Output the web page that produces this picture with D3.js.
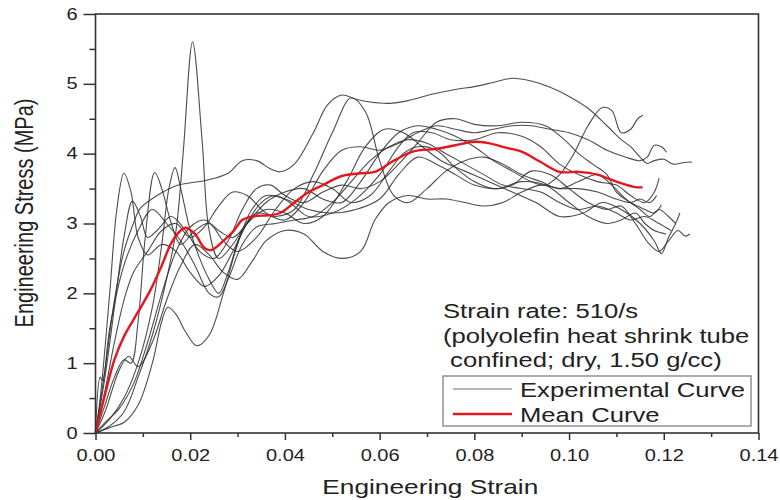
<!DOCTYPE html>
<html>
<head>
<meta charset="utf-8">
<script src="https://cdn.jsdelivr.net/npm/d3@7"></script>
<style>
  body { margin: 0; background: #fff; }
  svg { display: block; font-family: "Liberation Sans", Arial, sans-serif; }
</style>
</head>
<body>
<svg id="chart"></svg>
<script>
// values (strain, stress MPa)
var exp1 = [[0,0],[0.002,0.9],[0.004,1.9],[0.006,2.6],[0.008,3.0],[0.0095,3.22],[0.013,3.4],[0.0175,3.55],[0.0235,3.62],[0.028,3.72],[0.031,3.9],[0.034,3.9],[0.037,3.78],[0.039,3.74],[0.042,3.85],[0.046,4.3],[0.049,4.7],[0.052,4.84],[0.055,4.78],[0.058,4.74],[0.062,4.72],[0.066,4.76],[0.071,4.85],[0.076,4.92],[0.08,4.96],[0.084,5.02],[0.088,5.08],[0.092,5.04],[0.096,4.95],[0.1,4.82],[0.104,4.65],[0.108,4.4],[0.111,4.2],[0.113,4.1],[0.115,3.95],[0.1165,3.86],[0.118,3.9],[0.12,3.92],[0.122,3.85],[0.124,3.87],[0.126,3.88]]
var exp2 = [[0,0],[0.003,0.1],[0.006,0.3],[0.009,0.8],[0.012,1.4],[0.015,2.2],[0.017,2.9],[0.0185,4.0],[0.0205,5.6],[0.0225,4.2],[0.024,2.9],[0.026,2.5],[0.029,2.7],[0.032,3.0],[0.036,3.2],[0.04,3.15],[0.044,3.0],[0.048,3.1],[0.053,3.6],[0.057,4.1],[0.061,4.35],[0.065,4.3],[0.069,4.1],[0.073,3.9],[0.078,3.75],[0.083,3.6],[0.088,3.45],[0.093,3.3],[0.098,3.1],[0.103,3.15],[0.107,3.3],[0.111,3.2],[0.115,3.0],[0.118,2.75],[0.1195,2.57],[0.121,2.8],[0.1225,3.0],[0.1234,3.15]]
var exp3 = [[0,0],[0.001,0.5],[0.003,2.0],[0.0045,3.2],[0.006,3.72],[0.0075,3.45],[0.009,2.8],[0.011,2.55],[0.014,2.7],[0.017,2.6],[0.02,2.3],[0.023,2.1],[0.026,2.25],[0.029,2.6],[0.032,3.0],[0.035,3.3],[0.038,3.4],[0.041,3.3],[0.045,3.1],[0.05,3.15],[0.055,3.35],[0.06,3.7],[0.064,4.1],[0.067,4.3],[0.071,4.3],[0.075,4.2],[0.08,4.2],[0.085,4.3],[0.09,4.25],[0.094,4.1],[0.098,3.85],[0.102,3.7],[0.106,3.6],[0.11,3.55],[0.113,3.4],[0.116,3.3],[0.118,3.45],[0.119,3.65]]
var exp4 = [[0,0],[0.002,0.8],[0.004,1.8],[0.006,2.8],[0.0078,3.32],[0.0095,3.1],[0.011,2.8],[0.013,2.9],[0.016,3.1],[0.019,2.9],[0.022,2.6],[0.025,2.5],[0.028,2.75],[0.031,3.2],[0.034,3.5],[0.037,3.55],[0.04,3.4],[0.044,3.3],[0.048,3.45],[0.052,3.55],[0.056,3.5],[0.06,3.6],[0.064,3.85],[0.068,4.15],[0.072,4.45],[0.076,4.5],[0.08,4.42],[0.085,4.4],[0.09,4.45],[0.095,4.4],[0.099,4.2],[0.102,4.0],[0.105,3.85],[0.108,3.7],[0.11,3.45],[0.113,3.3],[0.116,3.2],[0.118,3.15],[0.1195,3.27]]
var exp5 = [[0,0],[0.002,0.4],[0.004,0.8],[0.006,1.05],[0.0075,1.0],[0.009,1.6],[0.0105,2.8],[0.0125,3.73],[0.014,3.5],[0.016,3.0],[0.018,2.7],[0.021,2.9],[0.024,3.0],[0.027,2.75],[0.03,2.6],[0.034,2.8],[0.038,3.2],[0.042,3.5],[0.046,3.6],[0.05,3.5],[0.054,3.3],[0.058,3.4],[0.062,3.75],[0.065,4.0],[0.068,4.1],[0.072,4.05],[0.076,3.8],[0.08,3.6],[0.084,3.5],[0.088,3.55],[0.092,3.75],[0.096,3.7],[0.1,3.5],[0.104,3.3],[0.108,3.2],[0.111,3.25],[0.114,3.0],[0.117,2.7],[0.119,2.6],[0.121,2.75],[0.123,2.9],[0.1245,2.82],[0.1255,2.85]]
var exp6 = [[0,0],[0.003,0.2],[0.006,0.5],[0.009,1.0],[0.012,1.8],[0.014,2.7],[0.0155,3.5],[0.0168,3.8],[0.018,3.5],[0.02,2.9],[0.022,2.5],[0.024,2.2],[0.026,2.0],[0.028,2.3],[0.031,2.9],[0.034,3.15],[0.038,3.1],[0.042,3.2],[0.046,3.7],[0.05,4.3],[0.054,4.8],[0.057,4.6],[0.06,3.9],[0.063,3.4],[0.066,3.3],[0.07,3.5],[0.074,3.75],[0.078,3.9],[0.082,3.95],[0.086,3.85],[0.09,3.7],[0.094,3.6],[0.098,3.5],[0.102,3.6],[0.106,3.7],[0.109,3.55],[0.112,3.35],[0.115,3.2],[0.117,3.1],[0.119,3.2],[0.121,3.1],[0.1225,3.0]]
var exp7 = [[0,0],[0.002,0.15],[0.005,0.35],[0.008,0.7],[0.011,1.3],[0.014,2.0],[0.017,2.6],[0.02,2.95],[0.023,3.05],[0.026,2.9],[0.029,2.8],[0.032,3.0],[0.036,3.3],[0.04,3.45],[0.044,3.5],[0.048,3.35],[0.052,3.3],[0.056,3.6],[0.06,4.0],[0.064,4.3],[0.068,4.4],[0.072,4.35],[0.076,4.25],[0.08,4.1],[0.084,3.9],[0.088,3.75],[0.092,3.6],[0.095,3.55],[0.098,3.7],[0.101,4.0],[0.104,4.4],[0.107,4.66],[0.109,4.62],[0.111,4.3],[0.113,4.35],[0.1145,4.5],[0.1156,4.55]]
var exp8 = [[0,0],[0.002,0.05],[0.004,0.1],[0.006,0.15],[0.009,0.4],[0.012,1.0],[0.014,1.6],[0.0153,1.8],[0.017,1.7],[0.019,1.45],[0.0214,1.25],[0.024,1.4],[0.027,2.0],[0.03,2.7],[0.033,3.2],[0.036,3.4],[0.04,3.35],[0.045,3.2],[0.05,3.15],[0.055,3.2],[0.06,3.35],[0.064,3.7],[0.068,3.95],[0.072,3.85],[0.076,3.7],[0.08,3.55],[0.085,3.5],[0.09,3.6],[0.095,3.55],[0.1,3.3],[0.104,3.1],[0.108,3.0],[0.111,3.05],[0.114,3.15],[0.116,3.0],[0.118,2.9],[0.1205,2.85]]
var exp9 = [[0,0],[0.002,0.3],[0.005,0.9],[0.007,1.1],[0.009,0.95],[0.012,1.3],[0.015,1.9],[0.018,2.4],[0.021,2.7],[0.024,2.55],[0.027,2.3],[0.03,2.2],[0.033,2.45],[0.036,2.75],[0.04,2.9],[0.044,2.85],[0.048,2.6],[0.052,2.5],[0.056,2.6],[0.059,3.05],[0.062,3.3],[0.066,3.4],[0.07,3.35],[0.074,3.35],[0.078,3.3],[0.082,3.25],[0.086,3.3],[0.09,3.45],[0.094,3.55],[0.098,3.5],[0.102,3.5],[0.106,3.45],[0.11,3.35],[0.113,3.3],[0.115,3.35],[0.117,3.3],[0.1185,3.4]]
var exp10 = [[0,0],[0.002,0.6],[0.004,1.3],[0.006,1.9],[0.008,2.3],[0.011,2.6],[0.014,2.9],[0.017,3.0],[0.02,2.8],[0.023,2.95],[0.026,3.25],[0.029,3.45],[0.032,3.4],[0.036,3.15],[0.04,3.05],[0.044,3.3],[0.048,3.75],[0.052,4.05],[0.056,4.1],[0.06,4.05],[0.064,4.15],[0.068,4.3],[0.072,4.4],[0.076,4.35],[0.08,4.3],[0.084,4.35],[0.088,4.4],[0.092,4.4],[0.096,4.35],[0.1,4.3],[0.104,4.2],[0.108,4.05],[0.112,3.95],[0.115,3.9],[0.1165,3.95],[0.118,4.12],[0.1195,4.1],[0.1206,4.02]]
var exp11 = [[0,0],[0.001,0.8],[0.0015,0.75],[0.003,1.5],[0.006,2.4],[0.009,2.9],[0.012,3.2],[0.015,3.0],[0.018,2.75],[0.021,2.4],[0.024,2.0],[0.026,1.95],[0.028,2.2],[0.031,2.7],[0.034,2.95],[0.038,3.0],[0.042,3.05],[0.046,3.1],[0.05,3.3],[0.054,3.6],[0.058,3.9],[0.062,4.1],[0.066,4.2],[0.07,4.15],[0.074,4.0],[0.078,3.85],[0.082,3.7],[0.086,3.55],[0.09,3.5],[0.094,3.45],[0.098,3.3],[0.102,3.2],[0.106,3.25],[0.11,3.15],[0.113,3.05],[0.116,3.1],[0.119,3.0],[0.1215,2.9]]

var meanCurve = [[0,0],[0.002,0.55],[0.004,1.05],[0.006,1.38],[0.008,1.62],[0.01,1.85],[0.012,2.1],[0.014,2.4],[0.016,2.72],[0.018,2.9],[0.019,2.94],[0.021,2.85],[0.023,2.65],[0.0245,2.62],[0.027,2.75],[0.029,2.88],[0.031,3.05],[0.033,3.1],[0.037,3.12],[0.039,3.15],[0.042,3.3],[0.045,3.45],[0.048,3.55],[0.052,3.68],[0.056,3.72],[0.059,3.74],[0.063,3.9],[0.067,4.03],[0.072,4.07],[0.076,4.12],[0.08,4.17],[0.083,4.15],[0.087,4.08],[0.09,4.03],[0.094,3.88],[0.098,3.74],[0.102,3.74],[0.106,3.7],[0.11,3.6],[0.114,3.52],[0.1155,3.52]]

var experimentalCurves = [exp1, exp2, exp3, exp4, exp5, exp6, exp7, exp8, exp9, exp10, exp11]

var xTicks = [0, 0.02, 0.04, 0.06, 0.08, 0.10, 0.12, 0.14]
var xMinor = [0.01, 0.03, 0.05, 0.07, 0.09, 0.11, 0.13]
var yTicks = [0, 1, 2, 3, 4, 5, 6]
var yMinor = [0.5, 1.5, 2.5, 3.5, 4.5, 5.5]
var noteLines = ["Strain rate: 510/s", "(polyolefin heat shrink tube", " confined; dry, 1.50 g/cc)"]
var legendLabels = ["Experimental Curve", "Mean Curve"]

var W = 780, H = 500
var stretchK = 1.25  // picture is stretched sideways, so text is too

var svg = d3.select("#chart")
    .attr("width", W)
    .attr("height", H)

var margin = {top: 14, right: 21.5, bottom: 67, left: 95.5}
var plotW = W - margin.left - margin.right
var plotH = H - margin.top - margin.bottom

var g = svg.append("g")
    .attr("transform", `translate(${margin.left}, ${margin.top})`)

var scX = d3.scaleLinear().domain([0, 0.14]).range([0, plotW])
var scY = d3.scaleLinear().domain([0, 6]).range([plotH, 0])

function stretch(sel) {
    sel.each(function () {
        var w = this.getComputedTextLength()
        d3.select(this).attr("textLength", w * stretchK).attr("lengthAdjust", "spacingAndGlyphs")
    })
}

// curves
var line = d3.line()
    .x(d => scX(d[0]))
    .y(d => scY(d[1]))
    .curve(d3.curveCatmullRom.alpha(0.5))

g.selectAll(".exp").data(experimentalCurves).enter().append("path")
    .attr("class", "exp")
    .attr("d", line)
    .attr("fill", "none")
    .attr("stroke", "#2e2e2e")
    .attr("stroke-opacity", 0.85)
    .attr("stroke-width", 1.1)

g.append("path")
    .datum(meanCurve)
    .attr("d", line)
    .attr("fill", "none")
    .attr("stroke", "#e3171d")
    .attr("stroke-width", 2.4)

// axes
var xAxis = d3.axisBottom(scX).tickValues(xTicks).tickSize(7).tickPadding(8).tickFormat(d3.format(".2f"))
var xAxisMinor = d3.axisBottom(scX).tickValues(xMinor).tickSize(4).tickFormat("")
var yAxis = d3.axisLeft(scY).tickValues(yTicks).tickSize(12).tickPadding(6).tickFormat(d3.format("d"))
var yAxisMinor = d3.axisLeft(scY).tickValues(yMinor).tickSize(6).tickFormat("")

var xg = g.append("g").attr("transform", `translate(0, ${plotH})`).call(xAxis)
g.append("g").attr("transform", `translate(0, ${plotH})`).call(xAxisMinor)
var yg = g.append("g").call(yAxis)
g.append("g").call(yAxisMinor)

g.selectAll(".domain").remove()
g.selectAll(".tick line").attr("stroke", "#333").attr("stroke-width", 1.5)
g.selectAll(".tick text")
    .attr("fill", "#222")
    .style("font-size", "16px")
    .style("font-family", "'Liberation Sans', Arial, sans-serif")
xg.selectAll(".tick text").attr("dy", "0").attr("y", 28)
stretch(g.selectAll(".tick text"))

// frame
g.append("rect")
    .attr("width", plotW)
    .attr("height", plotH)
    .attr("fill", "none")
    .attr("stroke", "#333")
    .attr("stroke-width", 1.6)

// axis titles
svg.append("text")
    .attr("x", margin.left + plotW * 0.505)
    .attr("y", 494)
    .attr("text-anchor", "middle")
    .attr("fill", "#222")
    .style("font-size", "21px")
    .text("Engineering Strain")
    .call(stretch)

svg.append("text")
    .attr("transform", `translate(33, 213) scale(${stretchK}, 1) rotate(-90)`)
    .attr("text-anchor", "middle")
    .attr("fill", "#222")
    .style("font-size", "20px")
    .text("Engineering Stress (MPa)")

// note
svg.selectAll(".note").data(noteLines).enter().append("text")
    .attr("class", "note")
    .attr("x", 443)
    .attr("y", (d, i) => 318 + i * 24.5)
    .attr("fill", "#222")
    .style("font-size", "20.5px")
    .style("white-space", "pre")
    .attr("xml:space", "preserve")
    .text(d => d)
    .call(stretch)

// legend
var leg = svg.append("g")
leg.append("rect")
    .attr("x", 443).attr("y", 376)
    .attr("width", 308).attr("height", 50)
    .attr("fill", "#fff")
    .attr("stroke", "#8a8a8a")
    .attr("stroke-width", 1.4)

var legStyles = [{c: "#6e6e6e", w: 1.2}, {c: "#e3171d", w: 2.4}]
legendLabels.forEach((lab, i) => {
    var yy = 389 + i * 25
    leg.append("line")
        .attr("x1", 453).attr("x2", 512)
        .attr("y1", yy).attr("y2", yy)
        .attr("stroke", legStyles[i].c)
        .attr("stroke-width", legStyles[i].w)
    leg.append("text")
        .attr("x", 520)
        .attr("y", yy + 8)
        .attr("fill", "#222")
        .style("font-size", "20.5px")
        .text(lab)
        .call(stretch)
})
</script>
</body>
</html>
